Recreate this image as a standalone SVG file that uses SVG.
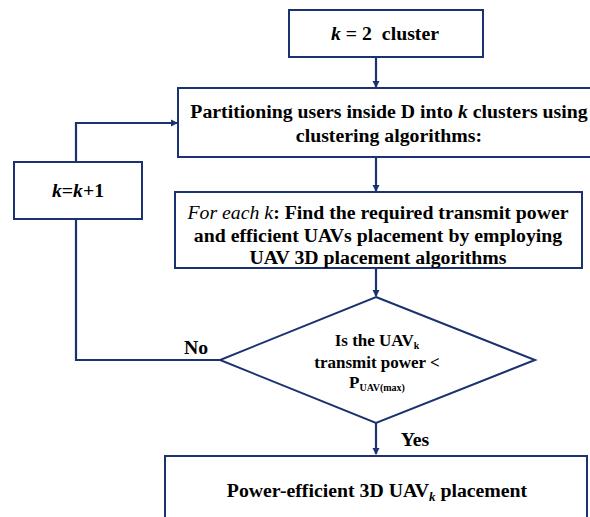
<svg xmlns="http://www.w3.org/2000/svg" width="590" height="517" viewBox="0 0 590 517">
<defs>
<marker id="ah" markerWidth="8" markerHeight="8" refX="6" refY="4" orient="auto" markerUnits="userSpaceOnUse">
<path d="M0,0.5 L7,4 L0,7.5 Z" fill="#1b3270"/>
</marker>
<style>
.box{fill:#fff;stroke:#1b3270;stroke-width:2}
.ln{fill:none;stroke:#1b3270;stroke-width:2.2}
.t16{font-size:19.8px}
.t14{font-size:17px}
</style>
</defs>
<g font-family="'Liberation Serif', 'Times New Roman', serif" font-weight="bold" fill="#000">
<g id="connectors">
<line class="ln" x1="376" y1="57" x2="376" y2="87" marker-end="url(#ah)"/>
<line class="ln" x1="376" y1="157" x2="376" y2="191" marker-end="url(#ah)"/>
<line class="ln" x1="376" y1="268" x2="376" y2="296" marker-end="url(#ah)"/>
<line class="ln" x1="376" y1="423" x2="376" y2="454" marker-end="url(#ah)"/>
<polyline class="ln" points="220,360 76,360 76,219"/>
<polyline class="ln" points="76,162 76,123 177,123" marker-end="url(#ah)"/>
<text class="t16" x="196" y="354" text-anchor="middle">No</text>
<text class="t16" x="415" y="446" text-anchor="middle">Yes</text>
</g>
<g id="n-start">
<rect class="box" x="289" y="10" width="194" height="47"/>
<text class="t16" x="385" y="40" text-anchor="middle" xml:space="preserve"><tspan font-style="italic">k</tspan> = 2  cluster</text>
</g>
<g id="n-partition">
<rect class="box" x="178" y="88" width="420" height="69"/>
<text class="t16" x="389" y="118" text-anchor="middle">Partitioning users inside D into <tspan font-style="italic">k</tspan> clusters using</text>
<text class="t16" x="389" y="142" text-anchor="middle">clustering algorithms:</text>
</g>
<g id="n-inc">
<rect class="box" x="14" y="162" width="128" height="57"/>
<text class="t16" x="78" y="197" text-anchor="middle"><tspan font-style="italic">k</tspan>=<tspan font-style="italic">k</tspan>+1</text>
</g>
<g id="n-find">
<rect class="box" x="175" y="192" width="407" height="76"/>
<text class="t16" x="378" y="219" text-anchor="middle"><tspan font-style="italic" font-weight="normal">For each k</tspan>: Find the required transmit power</text>
<text class="t16" x="378" y="242" text-anchor="middle">and efficient UAVs placement by employing</text>
<text class="t16" x="378" y="264" text-anchor="middle">UAV 3D placement algorithms</text>
</g>
<g id="n-decision">
<polygon class="box" points="376,297 535,360 376,423 220,360"/>
<text class="t14" x="377" y="346" text-anchor="middle">Is the UAV<tspan font-size="10" dy="3">k</tspan></text>
<text class="t14" x="377" y="368" text-anchor="middle">transmit power &lt;</text>
<text class="t14" x="377" y="388" text-anchor="middle">P<tspan font-size="10" dy="3">UAV(max)</tspan></text>
</g>
<g id="n-end">
<rect class="box" x="165" y="456" width="422" height="70"/>
<text class="t16" x="377" y="497" text-anchor="middle">Power-efficient 3D UAV<tspan font-style="italic" font-size="13" dy="4">k</tspan><tspan dy="-4"> placement</tspan></text>
</g>
</g>
</svg>
